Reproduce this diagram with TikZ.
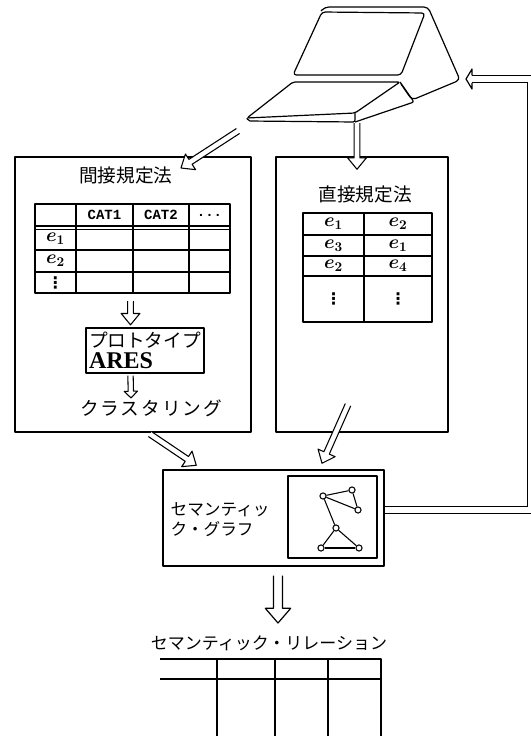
\documentclass[tikz,border=0pt]{standalone}
\usepackage{fontspec}
\setmainfont{Liberation Serif}
\setmonofont{Liberation Mono}
\newfontfamily\jp{Noto Sans CJK JP}
\newfontfamily\jpwide{Noto Sans CJK JP}[LetterSpace=10]
\newfontfamily\sym{DejaVu Sans}
\usetikzlibrary{calc}

\tikzset{
  % open block arrow: shaft half width, head half width, head length
  hollow/.style n args={3}{fill=white, to path={
    ($(\tikztotarget)!#3!(\tikztostart)$) coordinate (hb)
    ($(\tikztostart)!#1!90:(\tikztotarget)$)
    -- ($(hb)!#1!90:(\tikztotarget)$) -- ($(hb)!#2!90:(\tikztotarget)$)
    -- (\tikztotarget)
    -- ($(hb)!#2!-90:(\tikztotarget)$) -- ($(hb)!#1!-90:(\tikztotarget)$)
    -- ($(\tikztostart)!#1!-90:(\tikztotarget)$)}},
  arr/.style={hollow={2.2pt}{7pt}{8.5pt}, line width=.8pt},
  smallarr/.style={hollow={2pt}{5pt}{5pt}, line width=.8pt},
  bigarr/.style={hollow={3.4pt}{9.5pt}{11pt}, line width=.9pt},
}

\begin{document}
\begin{tikzpicture}[x=0.75pt, y=-0.75pt, line width=.9pt, line join=round,
  panel/.style={draw, line width=1.1pt, inner sep=0pt},
  jt/.style={font=\jp\fontsize{14}{16}\selectfont, inner sep=0pt},
  cat/.style={font=\ttfamily\bfseries\fontsize{10.5}{12}\selectfont, inner sep=0pt},
  ent/.style={font=\fontsize{14}{16}\selectfont\boldmath, inner sep=0pt},
  dots/.style={font=\sym\bfseries\fontsize{12}{12}\selectfont, inner sep=0pt},
  gnode/.style={circle, draw, fill=white, line width=.8pt, minimum size=4.6pt, inner sep=0pt}]
\useasboundingbox (0,0) rectangle (531,736);

% terminal
\draw[rounded corners=2.5pt] (293,75) -- (322,12) -- (425,13) -- (401,75) -- cycle;
\draw[rounded corners=3pt] (321,11) -- (325,7) -- (428,7) -- (460,80) -- (412,100) -- (401,84);
\draw[rounded corners=1.5pt] (247,118) -- (293,82) -- (400,82) -- (355,113) -- cycle;
\draw[rounded corners=1.5pt] (247,118) -- (248,121) -- (355,122) -- (355,113);
\draw[rounded corners=1.5pt] (355,122) -- (414,102) -- (400,82);
\coordinate (kbl) at (238,131);
\coordinate (kbr) at (357,123);
\coordinate (scr) at (466,79);

% indirect method
\node[panel, minimum width=177pt, minimum height=206.25pt] (ind) at (133,294.5) {};
\node[jt] (indt) at (126,175) {間接規定法};
\draw[line width=1.2pt] (35,204) rectangle (230,293);
\foreach \x in {76,133,189} \draw (\x,204) -- (\x,293);
\draw[line width=1.6pt] (35,226) -- (230,226);
\draw (35,229.5) -- (230,229.5);
\foreach \y in {250,272} \draw (35,\y) -- (230,\y);
\node[cat] (cat1) at (104.5,215) {CAT1};
\node[cat] (cat2) at (161,215) {CAT2};
\node[cat] (catn) at (209.5,215) {...};
\node[ent] (ie1) at (55.5,239) {$e_{1}$};
\node[ent] (ie2) at (55.5,261) {$e_{2}$};
\node[dots] (iev) at (55.5,282.5) {⋮};
\coordinate (itab) at (130.5,301);
\node[panel, line width=1pt, minimum width=88.5pt, minimum height=33.75pt, align=left,
  font=\fontsize{14}{17}\selectfont] (proto) at (145,350.5)
  {{\jp プロトタイプ}\\[-1pt]{\fontsize{18}{18}\selectfont\bfseries ARES}};
\node[font=\jpwide\fontsize{14}{16}\selectfont, inner sep=0pt] (clus) at (151,408) {クラスタリング};

% direct method
\node[panel, minimum width=129pt, minimum height=206.25pt] (dir) at (362,294.5) {};
\node[jt] (dirt) at (365,194) {直接規定法};
\draw[line width=1.2pt] (303,213) rectangle (432,322);
\draw (364,213) -- (364,322);
\draw[line width=1.3pt] (303,235) -- (432,235);
\foreach \y in {256,276} \draw (303,\y) -- (432,\y);
\node[ent] (d11) at (333.5,224) {$e_{1}$};
\node[ent] (d12) at (398,224) {$e_{2}$};
\node[ent] (d21) at (333.5,245.5) {$e_{3}$};
\node[ent] (d22) at (398,245.5) {$e_{1}$};
\node[ent] (d31) at (333.5,266) {$e_{2}$};
\node[ent] (d32) at (398,266) {$e_{4}$};
\node[dots] (d41) at (333.5,299) {⋮};
\node[dots] (d42) at (398,299) {⋮};

% semantic graph
\node[panel, minimum width=165.75pt, minimum height=72pt] (sg) at (273.5,518) {};
\node[font=\jp\fontsize{12.5}{15}\selectfont, inner sep=0pt, align=left, anchor=west]
  (sgt) at (170,520) {セマンティッ\\ク・グラフ};
\node[panel, line width=1pt, minimum width=66.75pt, minimum height=61.5pt] (gbox) at (332.5,517) {};
\node[gnode] (g1) at (323,496) {};
\node[gnode] (g2) at (352,490) {};
\node[gnode] (g3) at (358,510) {};
\node[gnode] (g4) at (336,528) {};
\node[gnode] (g5) at (321,548) {};
\node[gnode] (g6) at (359,548) {};
\foreach \a/\b in {g1/g2, g1/g3, g2/g3, g1/g4, g4/g5, g4/g6, g5/g6}
  \draw[line width=.8pt] (\a) -- (\b);

% semantic relation
\node[font=\jp\fontsize{12.75}{14}\selectfont, inner sep=0pt] (relt) at (269,643) {セマンティック・リレーション};
\draw[line width=1.2pt] (160,659) -- (381,659) -- (381,740);
\draw (160,679) -- (381,679);
\foreach \x in {217,275,328} \draw (\x,659) -- (\x,740);
\coordinate (rel) at (278,623);

% flow
\draw[arr] (kbl) to (181,168);
\draw[arr] (kbr) to ($(dir.north)+(-5,13)$);
\draw[arr] (itab) to ($(proto.north)+(-14.5,-2.5)$);
\draw[smallarr] ($(proto.south)+(-14.5,2)$) to ($(clus.north)+(-20,-1)$);
\draw[arr] ($(clus.south)+(-1,17)$) to ($(sg.north west)+(34,-4)$);
\draw[arr] ($(dir.south)+(-14,-28)$) to ($(sg.north)+(48.5,-6)$);
\draw[bigarr] ($(sg.south)+(4.5,9)$) to (rel);

% feedback to the terminal
\coordinate (fbb) at (472,79);
\draw[line width=.9pt, double distance between line centers=5.6pt]
  ($(sg.east)+(0,-8)$) -- (531,510) |- (fbb);
\draw[line width=.9pt] ($(fbb)+(0,-3.75)$) -- ($(fbb)+(0,-10)$) -- (scr)
  -- ($(fbb)+(0,10)$) -- ($(fbb)+(0,3.75)$);
\end{tikzpicture}
\end{document}
